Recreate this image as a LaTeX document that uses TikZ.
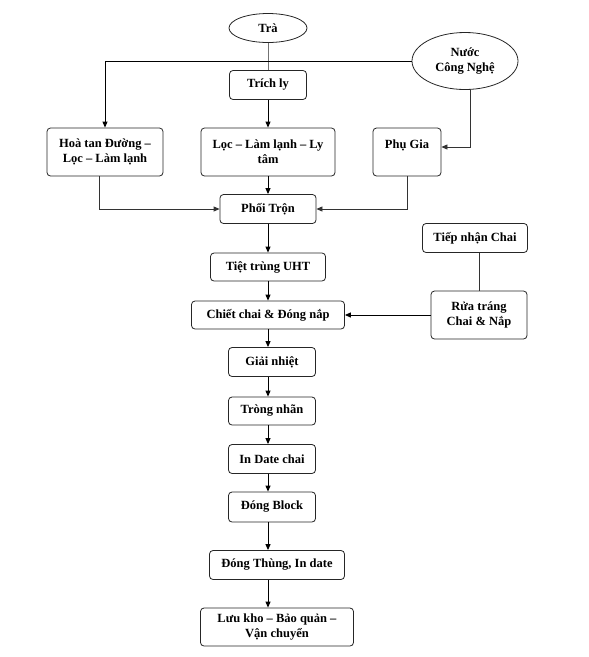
\documentclass[tikz,border=0pt]{standalone}
\usepackage{fontspec}
\setmainfont{Liberation Serif}
\usetikzlibrary{positioning,arrows.meta,shapes.geometric}

\begin{document}
\begin{tikzpicture}[x=1pt,y=-1pt,
    font=\fontsize{12.5}{15}\selectfont\bfseries,
    stepbox/.style={draw=black!85,line width=0.8pt,rounded corners=3.5pt,
      align=center,inner sep=2pt},
    oval/.style={draw=black!85,line width=0.8pt,ellipse,align=center,inner sep=1pt},
    flow/.style={line width=1pt,-{Triangle[length=6pt,width=5pt]}},
    feed/.style={line width=0.8pt,black!80}]
  \useasboundingbox (0,0) rectangle (589,657);

  \node[oval,minimum width=78,minimum height=29] (tra) at (268,28) {Trà};
  \node[oval,minimum width=106,minimum height=57] (nuoc) at (465,61) {Nước\\Công Nghệ};
  \node[stepbox,minimum width=77,minimum height=29] (trich) at (268,85) {Trích ly};
  \node[stepbox,minimum width=116,minimum height=48] (hoatan) at (105,152)
    {Hoà tan Đường –\\Lọc – Làm lạnh};
  \node[stepbox,minimum width=134,minimum height=48] (loc) at (268,152)
    {Lọc – Làm lạnh – Ly\\tâm};
  \node[stepbox,minimum width=68,minimum height=48] (phugia) at (407,152) {Phụ Gia\\~};
  \node[stepbox,minimum width=96,minimum height=29] (phoi) at (268,209) {Phối Trộn};
  \node[stepbox,minimum width=115,minimum height=28] (tiet) at (268,267) {Tiệt trùng UHT};
  \node[stepbox,minimum width=105,minimum height=29] (tiepnhan) at (475,238) {Tiếp nhận Chai};
  \node[stepbox,minimum width=96,minimum height=48] (ruatrang) at (479,315)
    {Rửa tráng\\Chai \& Nắp};
  \node[stepbox,minimum width=153,minimum height=28] (chiet) at (268,315)
    {Chiết chai \& Đóng nắp};
  \node[stepbox,minimum width=87,minimum height=29] (giai) at (272,362) {Giải nhiệt};
  \node[stepbox,minimum width=87,minimum height=28] (trong) at (272,411) {Tròng nhãn};
  \node[stepbox,minimum width=87,minimum height=29] (indate) at (272,459) {In Date chai};
  \node[stepbox,minimum width=87,minimum height=30] (block) at (272,507) {Đóng Block};
  \node[stepbox,minimum width=135,minimum height=29] (thung) at (277,565)
    {Đóng Thùng, In date};
  \node[stepbox,minimum width=153,minimum height=38] (luukho) at (277,627)
    {Lưu kho – Bảo quản –\\Vận chuyển};

  \draw[feed,black!55] (tra) -- (trich);
  \draw[flow] (nuoc.west) -| (hoatan.north);
  \draw[flow] (trich) -- (loc);
  \draw[feed,-{Triangle[length=6pt,width=5pt]}] ([xshift=5pt]nuoc.south)
    |- ([yshift=5pt]phugia.east);
  \draw[flow] (loc) -- (phoi);
  \draw[feed,-{Triangle[length=6pt,width=5pt]}] ([xshift=-6pt]hoatan.south) |- (phoi.west);
  \draw[feed,-{Triangle[length=6pt,width=5pt]}] (phugia.south) |- (phoi.east);
  \draw[flow] (phoi) -- (tiet);
  \draw[flow] (tiet) -- (chiet);
  \draw[feed] (ruatrang.north |- tiepnhan.south) -- (ruatrang.north);
  \draw[flow] (ruatrang.west) -- (chiet.east);
  \draw[flow] (chiet.south) -- (chiet.south |- giai.north);
  \draw[flow] (giai.south -| chiet.south) -- (trong.north -| chiet.south);
  \draw[flow] (trong.south -| chiet.south) -- (indate.north -| chiet.south);
  \draw[flow] (indate.south -| chiet.south) -- (block.north -| chiet.south);
  \draw[flow] (block.south -| chiet.south) -- (thung.north -| chiet.south);
  \draw[flow] (thung.south -| chiet.south) -- (luukho.north -| chiet.south);
\end{tikzpicture}
\end{document}
